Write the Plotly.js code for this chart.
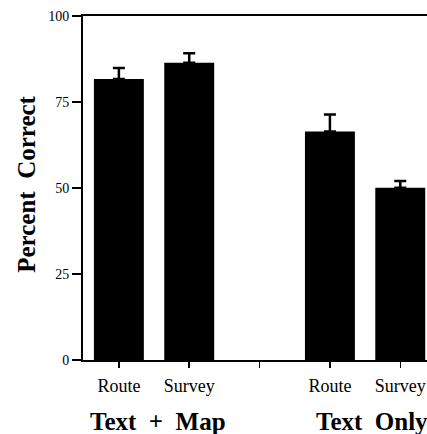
<!DOCTYPE html>
<html>
<head>
<meta charset="utf-8">
<script src="https://cdn.plot.ly/plotly-3.0.1.min.js"></script>
<style>html,body{margin:0;padding:0;background:#fff;}#chart{width:427px;height:434px;}</style>
</head>
<body>
<div id="chart"></div>
<script>
const tickLabels = ["Route", "Survey", "", "Route", "Survey"];
const positions = [0, 1, 3, 4];
const values = [81.7, 86.4, 66.4, 50.1];
const errors = [3.2, 2.8, 5.0, 1.9];
const groupLabels = ["Text  +  Map", "Text  Only"];
const groupCenters = [0.55, 3.6];
const yTicks = [0, 25, 50, 75, 100];

const serif = "Liberation Serif, Times New Roman, serif";

const trace = {
  type: "bar",
  x: positions,
  y: values,
  width: 0.71,
  marker: {color: "#000", line: {width: 0}},
  error_y: {
    type: "data",
    symmetric: false,
    array: errors,
    arrayminus: errors.map(() => 0),
    color: "#000",
    thickness: 2.5,
    width: 6
  },
  hoverinfo: "none"
};

const layout = {
  width: 427,
  height: 434,
  margin: {l: 83, r: 0, t: 16, b: 74},
  paper_bgcolor: "#fff",
  plot_bgcolor: "#fff",
  showlegend: false,
  xaxis: {
    range: [-0.51, 4.38],
    tickmode: "array",
    tickvals: [0, 1, 2, 3, 4],
    ticktext: tickLabels,
    ticks: "outside",
    ticklen: 6,
    tickwidth: 1.5,
    tickcolor: "#000",
    ticklabelstandoff: 2,
    showline: true,
    linecolor: "#000",
    linewidth: 2,
    mirror: true,
    showgrid: false,
    zeroline: false,
    tickfont: {family: serif, size: 18, color: "#000"}
  },
  yaxis: {
    range: [0, 100],
    tickmode: "array",
    tickvals: yTicks,
    ticks: "outside",
    ticklen: 9,
    tickwidth: 1.5,
    tickcolor: "#000",
    showline: true,
    linecolor: "#000",
    linewidth: 2,
    showgrid: false,
    zeroline: false,
    tickfont: {family: serif, size: 14, color: "#000"}
  },
  annotations: [
    {
      text: "<b>Percent  Correct</b>",
      xref: "paper", yref: "paper",
      x: -0.165, y: 0.51,
      xanchor: "center", yanchor: "middle",
      textangle: -90,
      showarrow: false,
      font: {family: serif, size: 25, color: "#000"}
    }
  ].concat(groupLabels.map((g, i) => ({
    text: "<b>" + g + "</b>",
    xref: "x", yref: "paper",
    x: groupCenters[i], y: -0.178,
    xanchor: "center", yanchor: "middle",
    showarrow: false,
    font: {family: serif, size: 25, color: "#000"}
  })))
};

Plotly.newPlot("chart", [trace], layout, {displayModeBar: false, staticPlot: true});
</script>
</body>
</html>
